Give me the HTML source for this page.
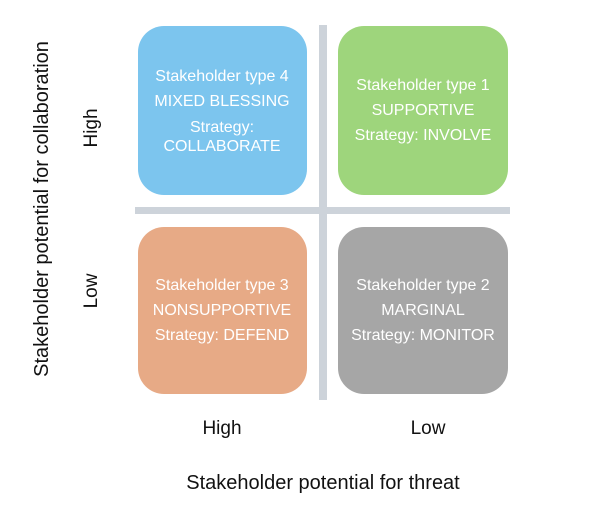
<!DOCTYPE html>
<html><head><style>body{margin:0;background:#fff}svg{display:block}</style></head><body>
<svg width="607" height="511" viewBox="0 0 607 511" xmlns="http://www.w3.org/2000/svg" font-family="Liberation Sans, sans-serif">
<rect x="319" y="25" width="8" height="375" fill="#cdd3da"/>
<rect x="135" y="207" width="375" height="7" fill="#cdd3da"/>
<rect x="138" y="26" width="169" height="169" rx="26" fill="#7cc5ee"/>
<rect x="338" y="26" width="170" height="169" rx="26" fill="#9ed57c"/>
<rect x="138" y="227" width="169" height="167" rx="26" fill="#e7aa86"/>
<rect x="338" y="227" width="170" height="167" rx="26" fill="#a6a6a6"/>
<g fill="#fff" font-size="16" text-anchor="middle">
<text x="222" y="81">Stakeholder type 4</text>
<text x="222" y="106">MIXED BLESSING</text>
<text x="222" y="132">Strategy:</text>
<text x="222" y="151">COLLABORATE</text>
<text x="423" y="90">Stakeholder type 1</text>
<text x="423" y="115">SUPPORTIVE</text>
<text x="423" y="140">Strategy: INVOLVE</text>
<text x="222" y="290">Stakeholder type 3</text>
<text x="222" y="315">NONSUPPORTIVE</text>
<text x="222" y="340">Strategy: DEFEND</text>
<text x="423" y="290">Stakeholder type 2</text>
<text x="423" y="315">MARGINAL</text>
<text x="423" y="340">Strategy: MONITOR</text>
</g>
<g fill="#111" font-size="19" text-anchor="middle">
<text transform="translate(48,209) rotate(-90)" font-size="20">Stakeholder potential for collaboration</text>
<text transform="translate(97,128) rotate(-90)">High</text>
<text transform="translate(97,291) rotate(-90)">Low</text>
<text x="222" y="434">High</text>
<text x="428" y="434">Low</text>
<text x="323" y="489" font-size="20">Stakeholder potential for threat</text>
</g>
</svg>
</body></html>
